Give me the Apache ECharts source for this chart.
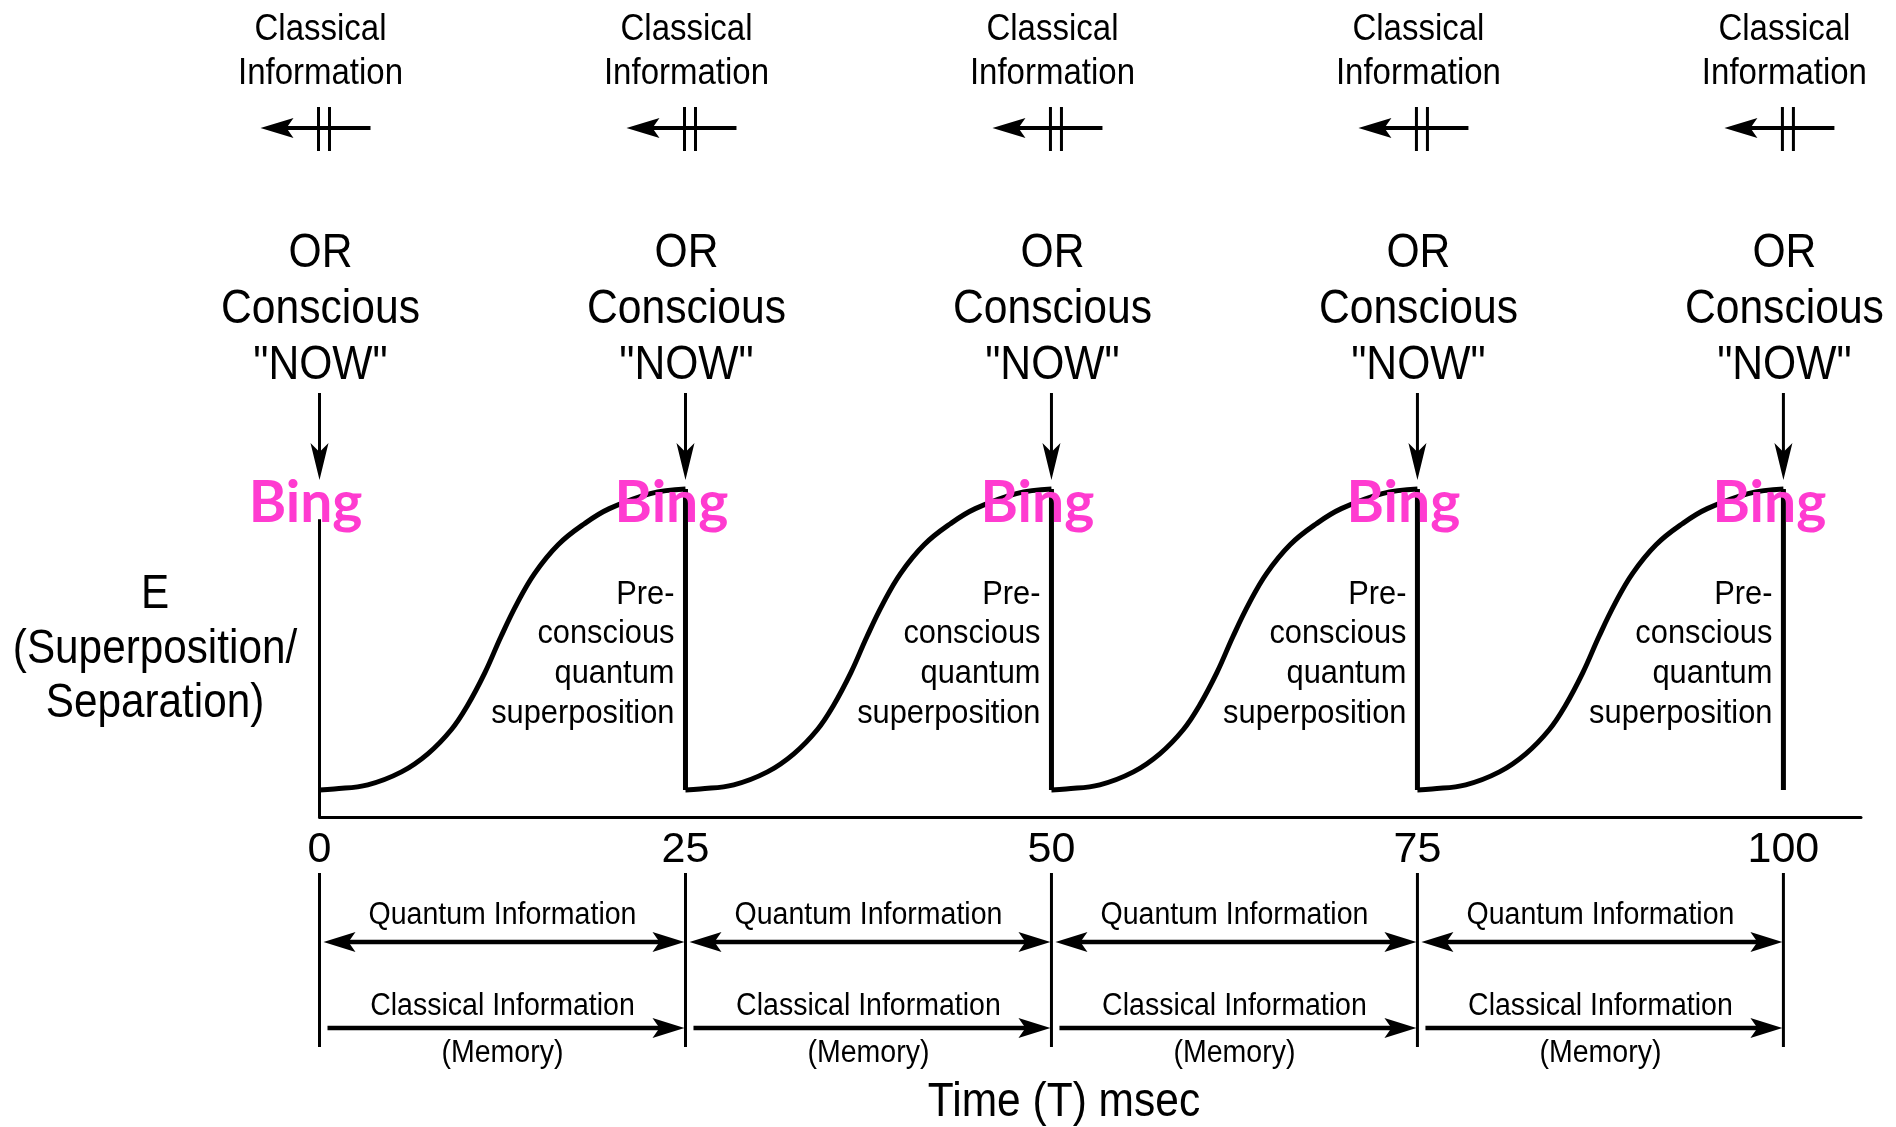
<!DOCTYPE html>
<html><head><meta charset="utf-8">
<script src="https://cdn.jsdelivr.net/npm/echarts@6/dist/echarts.min.js"></script>
<style>html,body{margin:0;padding:0;background:#fff}#c{width:1896px;height:1127px}</style>
</head><body><div id="c"></div>
<script>
// ---- data ----
const tickValues = [0, 25, 50, 75, 100];
const cycleStarts = [0, 25, 50, 75];
const dropTimes = [25, 50, 75, 100];
const profileT = [0, 1, 3.3, 5.6, 7.4, 9, 10.1, 11.3, 12.4, 13.5, 14.7, 16.3, 18.1, 19.8, 22.6, 25];
const profileE = [0, 0.003, 0.017, 0.06, 0.12, 0.2, 0.28, 0.39, 0.51, 0.62, 0.72, 0.815, 0.885, 0.935, 0.985, 1];
const initialRise = 0.9;
const topLabel = ['Classical', 'Information'];
const nowLabel = ['OR', 'Conscious', '"NOW"'];
const bingLabel = 'Bing';
const preLabel = ['Pre-', 'conscious', 'quantum', 'superposition'];
const quantumLabel = 'Quantum Information';
const classicalLabel = 'Classical Information';
const memoryLabel = '(Memory)';
const yLabel = ['E', '(Superposition/', 'Separation)'];
const xTitle = 'Time (T) msec';
const xMin = 0, xMax = 105.3, yMin = -0.09, yMax = 1.1;

// ---- helpers ----
const FONT = '"Liberation Sans", Arial, Helvetica, sans-serif';
function txt(x, base, str, fs, sx, align) {
  return {type: 'text', x: x, y: base - 0.29 * fs, scaleX: sx,
    style: {text: str, fontSize: fs, fontFamily: FONT, fill: '#000', align: align || 'center', verticalAlign: 'middle'}};
}
function ln(x1, y1, x2, y2, w) {
  return {type: 'line', shape: {x1, y1, x2, y2}, style: {stroke: '#000', lineWidth: w}};
}
function poly(pts) { return {type: 'polygon', shape: {points: pts}, style: {fill: '#000'}}; }

function renderTick(params, api) {
  const v = api.value(0);
  const X = api.coord([v, 0])[0];
  const ch = [];
  topLabel.forEach((s, i) => ch.push(txt(X + 1, 41 + i * 43.5, s, 37.5, 0.88)));
  ch.push(ln(X - 34, 128, X + 51, 128, 4));
  ch.push(poly([[X - 59, 128], [X - 26, 118], [X - 33, 128], [X - 26, 138]]));
  ch.push(ln(X - 1, 107, X - 1, 151, 3));
  ch.push(ln(X + 10, 107, X + 10, 151, 3));
  nowLabel.forEach((s, i) => ch.push(txt(X + 1, 268 + i * 56, s, 49, 0.87)));
  ch.push(ln(X, 393, X, 455, 3));
  ch.push(poly([[X, 480], [X - 9, 443], [X, 452], [X + 9, 443]]));
  if (v > tickValues[0]) {
    preLabel.forEach((s, i) => ch.push(txt(X - 11, 604 + i * 39.7, s, 33.5, 0.92, 'right')));
  }
  ch.push(ln(X, 873, X, 1047, 3));
  ch.push({type: 'text', x: X - 14, y: 521 - 0.3 * 57, z2: 10,
    style: {text: bingLabel, fontSize: 57, fontWeight: 'bold', fontFamily: 'Lato, "Open Sans", sans-serif',
      fill: '#ff3bd0', align: 'center', verticalAlign: 'middle'}});
  return {type: 'group', children: ch};
}

function renderSpan(params, api) {
  const a = api.coord([api.value(0), 0])[0];
  const b = api.coord([api.value(1), 0])[0];
  const m = (a + b) / 2;
  const ch = [];
  ch.push(txt(m, 924, quantumLabel, 31, 0.92));
  ch.push(ln(a + 22, 942, b - 22, 942, 4.5));
  ch.push(poly([[a + 4, 942], [a + 36, 932], [a + 29, 942], [a + 36, 952]]));
  ch.push(poly([[b - 1, 942], [b - 33, 932], [b - 26, 942], [b - 33, 952]]));
  ch.push(txt(m, 1015, classicalLabel, 31, 0.92));
  ch.push(ln(a + 8, 1028, b - 22, 1028, 4.5));
  ch.push(poly([[b - 1, 1028], [b - 33, 1018], [b - 26, 1028], [b - 33, 1038]]));
  ch.push(txt(m, 1062, memoryLabel, 31, 0.92));
  return {type: 'group', children: ch};
}

const series = [];
cycleStarts.forEach(c => {
  series.push({type: 'line', data: profileT.map((t, i) => [c + t, profileE[i]]),
    smooth: 0.4, symbol: 'none', clip: false, lineStyle: {color: '#000', width: 5, join: 'round'}, z: 2});
});
dropTimes.forEach(t => {
  series.push({type: 'line', data: [[t, 1], [t, 0]], symbol: 'none', clip: false,
    lineStyle: {color: '#000', width: 5}, z: 2});
});
series.push({type: 'line', data: [[tickValues[0], yMin], [tickValues[0], initialRise]], symbol: 'none', clip: false,
  lineStyle: {color: '#000', width: 3}, z: 2});
series.push({type: 'custom', data: tickValues.map(v => [v, 0]), renderItem: renderTick, clip: false, z: 5, silent: true});
series.push({type: 'custom', data: cycleStarts.map(c => [c, c + 25]), renderItem: renderSpan, clip: false, z: 5, silent: true,
  encode: {x: [0, 1], y: []}});

const chart = echarts.init(document.getElementById('c'), null, {renderer: 'canvas'});
chart.setOption({
  backgroundColor: '#fff',
  animation: false,
  grid: {left: 319.5, right: 35, top: 459, bottom: 310, containLabel: false, outerBoundsMode: 'none'},
  xAxis: {type: 'value', min: xMin, max: xMax, interval: 25,
    axisLine: {show: true, onZero: false, lineStyle: {color: '#000', width: 3}},
    axisTick: {show: false}, splitLine: {show: false},
    axisLabel: {show: true, color: '#000', fontSize: 43, fontFamily: FONT, margin: 12,
      formatter: v => (tickValues.indexOf(v) >= 0 ? String(v) : '')}},
  yAxis: {type: 'value', min: yMin, max: yMax, show: false},
  graphic: [
    {type: 'group', children: yLabel.map((s, i) => txt(155, 609 + i * 54.5, s, 47.5, 0.89))},
    txt(1064, 1117, xTitle, 47.5, 0.895)
  ],
  series: series
});
</script></body></html>
